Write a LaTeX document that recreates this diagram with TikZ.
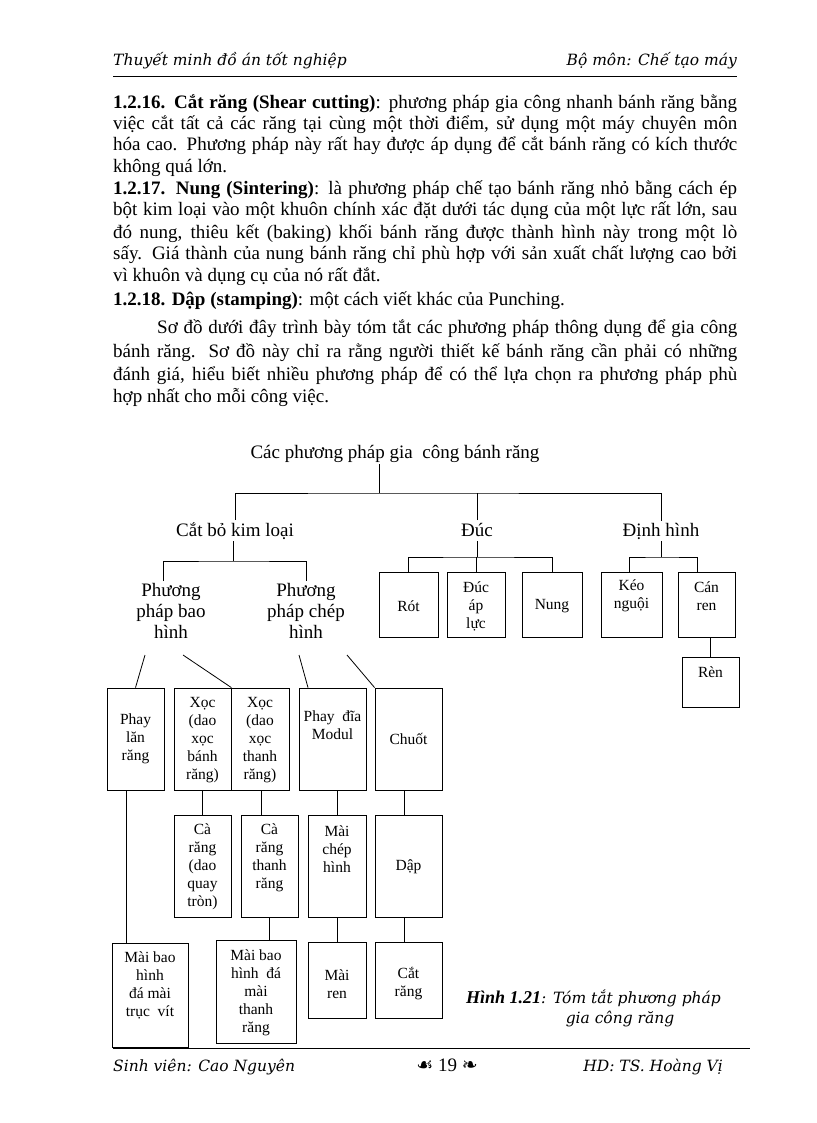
\documentclass[tikz,border=0pt]{standalone}
\usepackage{fontspec}
\setmainfont{Liberation Serif}
\newfontfamily\hdfont{DejaVu Serif}
\newfontfamily\symfont{DejaVu Sans}
\usetikzlibrary{positioning}
\newcommand\bodyfnt{\fontsize{19}{21}\selectfont}
\newcommand\boxfnt{\fontsize{15.5}{18}\selectfont}
\newcommand\hdfnt{\hdfont\itshape\fontsize{15.5}{18}\selectfont}

\begin{document}
\begin{tikzpicture}[x=1pt,y=-1pt]
\tikzstyle{txt}=[font=\bodyfnt, inner sep=0pt]
\tikzstyle{head}=[font=\bodyfnt, align=center, inner sep=2pt]
\tikzstyle{hd}=[font=\hdfnt, inner sep=0pt]
\tikzstyle{blk}=[rectangle, draw=black, line width=0.8pt, inner sep=0pt]
\tikzstyle{lbl}=[font=\boxfnt, align=center, inner sep=0pt]
\tikzstyle{conn}=[line width=0.8pt]
  \useasboundingbox (0,0) rectangle (816,1123);

  % header and footer
  \node[hd, anchor=base west] (hl) at (113,66) {Thuyết minh đồ án tốt nghiệp};
  \node[hd, anchor=base east] (hr) at (737,66) {Bộ môn: Chế tạo máy};
  \draw[conn] (113,76) -- (737,76);
  \draw[conn] (113,1048) -- (750,1048);
  \node[hd, anchor=base west] (fl) at (113,1071) {Sinh viên: Cao Nguyên};
  \node[txt, anchor=base] (pg) at (447,1071) {{\symfont\fontsize{19}{21}\selectfont ☙}~19~{\symfont\fontsize{19}{21}\selectfont ❧}};
  \node[hd, anchor=base east] (fr) at (723,1071) {HD: TS. Hoàng Vị};

  % text above the diagram
  \foreach \yy/\txt in {
    109/{\textbf{1.2.16. Cắt răng (Shear cutting)}: phương pháp gia công nhanh bánh răng bằng},
    130/{việc cắt tất cả các răng tại cùng một thời điểm, sử dụng một máy chuyên môn},
    151/{hóa cao. Phương pháp này rất hay được áp dụng để cắt bánh răng có kích thước},
    195/{\textbf{1.2.17. Nung (Sintering)}: là phương pháp chế tạo bánh răng nhỏ bằng cách ép},
    216/{bột kim loại vào một khuôn chính xác đặt dưới tác dụng của một lực rất lớn, sau},
    238/{đó nung, thiêu kết (baking) khối bánh răng được thành hình này trong một lò},
    259/{sấy. Giá thành của nung bánh răng chỉ phù hợp với sản xuất chất lượng cao bởi},
    357/{bánh răng. Sơ đồ này chỉ ra rằng người thiết kế bánh răng cần phải có những},
    380/{đánh giá, hiểu biết nhiều phương pháp để có thể lựa chọn ra phương pháp phù}}
    \node[txt, anchor=base west] (j\yy) at (113,\yy) {\makebox[624pt][s]{\txt}};
  \node[txt, anchor=base west] (j333) at (157,333) {\makebox[580pt][s]{Sơ đồ dưới đây trình bày tóm tắt các phương pháp thông dụng để gia công}};
  \node[txt, anchor=base west] (e173) at (113,173) {không quá lớn.};
  \node[txt, anchor=base west] (e281) at (113,281) {vì khuôn và dụng cụ của nó rất đắt.};
  \node[txt, anchor=base west] (e305) at (113,305) {\textbf{1.2.18. Dập (stamping)}: một cách viết khác của Punching.};
  \node[txt, anchor=base west] (e402) at (113,402) {hợp nhất cho mỗi công việc.};

  % tree heads
  \node[head, anchor=base] (title) at (395,458) {Các phương pháp gia\ \ công bánh răng};
  \node[head, anchor=base] (cat) at (235,536) {Cắt bỏ kim loại};
  \node[head, anchor=base] (duc) at (477,536) {Đúc};
  \node[head, anchor=base] (dinh) at (661,536) {Định hình};
  \node[head] (pbh) at (171,611) {Phương\\pháp bao\\hình};
  \node[head] (pch) at (306,611) {Phương\\pháp chép\\hình};

  % boxes
  \node[blk, minimum width=59pt, minimum height=65pt, label={[lbl,yshift=-1.5pt]center:{Rót}}] (rot) at (408.5,604.5) {};
  \node[blk, minimum width=58pt, minimum height=65pt, label={[lbl,yshift=-1.5pt]center:{Đúc\\áp\\lực}}] (ducal) at (476,604.5) {};
  \node[blk, minimum width=60pt, minimum height=65pt, label={[lbl,yshift=-1.5pt]center:{Nung}}] (nung) at (552,604.5) {};
  \node[blk, minimum width=61pt, minimum height=65pt, label={[lbl,yshift=8.5pt]center:{Kéo\\nguội}}] (keo) at (631.5,604.5) {};
  \node[blk, minimum width=57pt, minimum height=65pt, label={[lbl,yshift=8.5pt]center:{Cán\\ren}}] (can) at (706.5,604.5) {};
  \node[blk, minimum width=57pt, minimum height=50pt, label={[lbl,yshift=10pt]center:{Rèn}}] (ren) at (710.5,682) {};
  \node[blk, minimum width=57pt, minimum height=102pt, label={[lbl]center:{Phay\\lăn\\răng}}] (phaylan) at (135.5,739) {};
  \node[blk, minimum width=57pt, minimum height=102pt, label={[lbl,yshift=-1pt]center:{Xọc\\(dao\\xọc\\bánh\\răng)}}] (xoc1) at (202.5,739) {};
  \node[blk, minimum width=58pt, minimum height=102pt, label={[lbl,yshift=-1pt]center:{Xọc\\(dao\\xọc\\thanh\\răng)}}] (xoc2) at (260,739) {};
  \node[blk, minimum width=67pt, minimum height=102pt, label={[lbl,yshift=13.5pt]center:{Phay~~đĩa\\Modul}}] (phaydia) at (332.5,739) {};
  \node[blk, minimum width=67pt, minimum height=102pt, label={[lbl]center:{Chuốt}}] (chuot) at (408.5,739) {};
  \node[blk, minimum width=57pt, minimum height=102pt, label={[lbl,yshift=-1pt]center:{Cà\\răng\\(dao\\quay\\tròn)}}] (ca1) at (202.5,866) {};
  \node[blk, minimum width=57pt, minimum height=102pt, label={[lbl,yshift=8pt]center:{Cà\\răng\\thanh\\răng}}] (ca2) at (269.5,866) {};
  \node[blk, minimum width=58pt, minimum height=102pt, label={[lbl,yshift=17pt]center:{Mài\\chép\\hình}}] (maichep) at (337,866) {};
  \node[blk, minimum width=67pt, minimum height=102pt, label={[lbl,yshift=-1pt]center:{Dập}}] (dap) at (408.5,866) {};
  \node[blk, minimum width=76pt, minimum height=104pt, label={[lbl,yshift=9.5pt]center:{Mài bao\\hình\\đá mài\\trục~~vít}}] (maibao1) at (150,995) {};
  \node[blk, minimum width=80pt, minimum height=103pt, label={[lbl,yshift=-1pt]center:{Mài bao\\hình~~đá\\mài\\thanh\\răng}}] (maibao2) at (256,991.5) {};
  \node[blk, minimum width=58pt, minimum height=76pt, label={[lbl,yshift=-4pt]center:{Mài\\ren}}] (mairen) at (337,980) {};
  \node[blk, minimum width=67pt, minimum height=76pt, label={[lbl,yshift=-4pt]center:{Cắt\\răng}}] (catrang) at (408.5,980) {};

  % caption
  \node[txt, anchor=base west] (cap1) at (466,1003) {{\fontsize{18}{20}\selectfont\bfseries\itshape Hình 1.21}{\hdfnt: Tóm tắt phương pháp}};
  \node[hd, anchor=base] (cap2) at (620,1023) {gia công răng};

  % connectors
  \coordinate (bar0) at (379,493);
  \coordinate (bar1) at (233,561);
  \coordinate (bar2) at (477,557);
  \coordinate (bar3) at (661,557);
  \draw[conn] (title.south -| bar0) -- (bar0);
  \draw[conn] (cat.north) |- (bar0) -| (dinh.north);
  \draw[conn] (duc.north |- cat.north) -- (duc.north |- bar0);
  \draw[conn] (cat.south -| bar1) -- (bar1);
  \draw[conn] ([xshift=-8pt]pbh.north) |- (bar1) -| (pch.north);
  \draw[conn] (duc.south |- cat.south) -- (bar2);
  \draw[conn] (rot.north) |- (bar2) -| (nung.north);
  \draw[conn] (ducal.north) -- (ducal.north |- bar2);
  \draw[conn] (dinh.south) -- (bar3);
  \draw[conn] ([xshift=-2.5pt]keo.north) |- (bar3) -| ([xshift=-9.5pt]can.north);
  \draw[conn] (ren.north |- can.south) -- (ren.north);

  \coordinate (s1) at (145,655);
  \coordinate (s2) at (183,655);
  \coordinate (s3) at (299,655);
  \coordinate (s4) at (347,655);
  \draw[conn] (s1) -- (phaylan.north);
  \draw[conn] (s2) -- (xoc1.north east);
  \draw[conn] (s3) -- ([xshift=-24.5pt]phaydia.north);
  \draw[conn] (s4) -- (chuot.north west);
  \draw[conn] ([xshift=-9.5pt]phaylan.south) -- ([xshift=-9.5pt]phaylan.south |- maibao1.north);
  \draw[conn] (xoc1.south) -- (ca1.north);
  \draw[conn] ([xshift=1pt]xoc2.south) -- ([xshift=1pt]xoc2.south |- ca2.north);
  \draw[conn] (ca2.south) -- (ca2.south |- maibao2.north);
  \draw[conn] (maichep.north |- phaydia.south) -- (maichep.north);
  \draw[conn] (maichep.south) -- (mairen.north);
  \draw[conn] ([xshift=-4.5pt]chuot.south) -- ([xshift=-4.5pt]dap.north);
  \draw[conn] ([xshift=-4.5pt]dap.south) -- ([xshift=-4.5pt]catrang.north);
\end{tikzpicture}
\end{document}
